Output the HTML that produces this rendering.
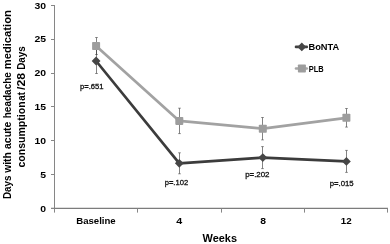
<!DOCTYPE html>
<html><head><meta charset="utf-8"><title>Chart</title>
<style>html,body{margin:0;padding:0;background:#fff}body{width:390px;height:244px;overflow:hidden}</style>
</head><body>
<svg width="390" height="244" viewBox="0 0 390 244" style="display:block">
<rect width="390" height="244" fill="#fff"/>
<g stroke="#868686" stroke-width="1" fill="none">
<path d="M54.5 5 V212.6"/>
<path d="M51 208.4 H388" stroke="#7c7c7c" stroke-width="1.2"/>
<path d="M51 208.5 H54.5"/>
<path d="M51 174.5 H54.5"/>
<path d="M51 140.5 H54.5"/>
<path d="M51 106.5 H54.5"/>
<path d="M51 73.5 H54.5"/>
<path d="M51 39.5 H54.5"/>
<path d="M51 5.5 H54.5"/>
<path d="M137.5 208.5 V212.6"/>
<path d="M221.5 208.5 V212.6"/>
<path d="M304.5 208.5 V212.6"/>
<path d="M387.5 208.5 V212.6"/>
</g>
<polyline points="96.1,61.0 179.3,163.3 262.8,157.6 346.4,161.4" fill="none" stroke="#3c3c3c" stroke-width="2.7" stroke-linejoin="round"/>
<path d="M96.5 48.5 V73.5" stroke="#303030" stroke-width="1" stroke-opacity="0.6" fill="none"/><path d="M95.1 48.5 H97.9 M95.1 73.5 H97.9" stroke="#303030" stroke-width="1" stroke-opacity="0.5" fill="none"/>
<path d="M179.5 152.8 V173.8" stroke="#303030" stroke-width="1" stroke-opacity="0.6" fill="none"/><path d="M178.1 152.8 H180.9 M178.1 173.8 H180.9" stroke="#303030" stroke-width="1" stroke-opacity="0.5" fill="none"/>
<path d="M262.5 146.6 V168.6" stroke="#303030" stroke-width="1" stroke-opacity="0.6" fill="none"/><path d="M261.1 146.6 H263.9 M261.1 168.6 H263.9" stroke="#303030" stroke-width="1" stroke-opacity="0.5" fill="none"/>
<path d="M346.5 150.4 V172.4" stroke="#303030" stroke-width="1" stroke-opacity="0.6" fill="none"/><path d="M345.1 150.4 H347.9 M345.1 172.4 H347.9" stroke="#303030" stroke-width="1" stroke-opacity="0.5" fill="none"/>
<path d="M91.7 61.0 L96.1 56.6 L100.5 61.0 L96.1 65.4Z" fill="#464646"/>
<path d="M174.9 163.3 L179.3 158.9 L183.7 163.3 L179.3 167.7Z" fill="#464646"/>
<path d="M258.4 157.6 L262.8 153.2 L267.2 157.6 L262.8 162.0Z" fill="#464646"/>
<path d="M342.0 161.4 L346.4 157.0 L350.8 161.4 L346.4 165.8Z" fill="#464646"/>
<polyline points="96.1,46.0 179.3,120.9 262.8,128.7 346.4,117.8" fill="none" stroke="#A2A2A2" stroke-width="2.7" stroke-linejoin="round"/>
<path d="M96.5 37.5 V54.5" stroke="#303030" stroke-width="1" stroke-opacity="0.6" fill="none"/><path d="M95.1 37.5 H97.9 M95.1 54.5 H97.9" stroke="#303030" stroke-width="1" stroke-opacity="0.5" fill="none"/>
<path d="M179.5 108.2 V133.6" stroke="#303030" stroke-width="1" stroke-opacity="0.6" fill="none"/><path d="M178.1 108.2 H180.9 M178.1 133.6 H180.9" stroke="#303030" stroke-width="1" stroke-opacity="0.5" fill="none"/>
<path d="M262.5 117.5 V139.9" stroke="#303030" stroke-width="1" stroke-opacity="0.6" fill="none"/><path d="M261.1 117.5 H263.9 M261.1 139.9 H263.9" stroke="#303030" stroke-width="1" stroke-opacity="0.5" fill="none"/>
<path d="M346.5 108.5 V127.1" stroke="#303030" stroke-width="1" stroke-opacity="0.6" fill="none"/><path d="M345.1 108.5 H347.9 M345.1 127.1 H347.9" stroke="#303030" stroke-width="1" stroke-opacity="0.5" fill="none"/>
<rect x="92.1" y="42.0" width="8" height="8" rx="0.8" fill="#9d9d9d"/>
<rect x="175.3" y="116.9" width="8" height="8" rx="0.8" fill="#9d9d9d"/>
<rect x="258.8" y="124.7" width="8" height="8" rx="0.8" fill="#9d9d9d"/>
<rect x="342.4" y="113.8" width="8" height="8" rx="0.8" fill="#9d9d9d"/>
<path d="M296 46.9 H306.8" stroke="#404040" stroke-width="2.6" stroke-linecap="round"/>
<path d="M297.4 46.9 L301.8 42.5 L306.2 46.9 L301.8 51.3Z" fill="#464646"/>
<path d="M296 68.5 H306.8" stroke="#A6A6A6" stroke-width="2.6" stroke-linecap="round"/>
<rect x="297.9" y="64.5" width="8" height="8" rx="0.8" fill="#9d9d9d"/>
<g font-family="Liberation Sans, Arial, sans-serif" fill="#000">
<text x="40.25" y="211.60" font-size="9.8" font-weight="bold" textLength="5.80" lengthAdjust="spacingAndGlyphs">0</text>
<text x="40.25" y="177.77" font-size="9.8" font-weight="bold" textLength="5.80" lengthAdjust="spacingAndGlyphs">5</text>
<text x="34.40" y="143.93" font-size="9.8" font-weight="bold" textLength="11.60" lengthAdjust="spacingAndGlyphs">10</text>
<text x="34.40" y="110.10" font-size="9.8" font-weight="bold" textLength="11.60" lengthAdjust="spacingAndGlyphs">15</text>
<text x="34.40" y="76.27" font-size="9.8" font-weight="bold" textLength="11.60" lengthAdjust="spacingAndGlyphs">20</text>
<text x="34.40" y="42.43" font-size="9.8" font-weight="bold" textLength="11.60" lengthAdjust="spacingAndGlyphs">25</text>
<text x="34.40" y="8.60" font-size="9.8" font-weight="bold" textLength="11.60" lengthAdjust="spacingAndGlyphs">30</text>
<text x="308.48" y="49.85" font-size="9.8" font-weight="bold" textLength="30.70" lengthAdjust="spacingAndGlyphs">BoNTA</text>
<text x="308.79" y="71.85" font-size="9.8" font-weight="bold" textLength="14.96" lengthAdjust="spacingAndGlyphs">PLB</text>
<text x="76.21" y="224.15" font-size="9.8" font-weight="bold" textLength="39.51" lengthAdjust="spacingAndGlyphs">Baseline</text>
<text x="176.37" y="224.10" font-size="9.8" font-weight="bold" textLength="5.98" lengthAdjust="spacingAndGlyphs">4</text>
<text x="260.22" y="224.20" font-size="9.8" font-weight="bold" textLength="5.76" lengthAdjust="spacingAndGlyphs">8</text>
<text x="340.75" y="224.10" font-size="9.8" font-weight="bold" textLength="10.86" lengthAdjust="spacingAndGlyphs">12</text>
<text x="202.54" y="241.80" font-size="10.7" font-weight="bold" textLength="34.43" lengthAdjust="spacingAndGlyphs">Weeks</text>
<text x="79.95" y="89.07" font-size="8.0" fill="#111" stroke="#111" stroke-width="0.3" textLength="23.61" lengthAdjust="spacingAndGlyphs">p=.651</text>
<text x="164.67" y="184.65" font-size="8.0" fill="#111" stroke="#111" stroke-width="0.3" textLength="23.53" lengthAdjust="spacingAndGlyphs">p=.102</text>
<text x="245.13" y="177.35" font-size="8.0" fill="#111" stroke="#111" stroke-width="0.3" textLength="24.39" lengthAdjust="spacingAndGlyphs">p=.202</text>
<text x="329.65" y="185.95" font-size="8.0" fill="#111" stroke="#111" stroke-width="0.3" textLength="23.97" lengthAdjust="spacingAndGlyphs">p=.015</text>
<text transform="translate(10.8 199.02) rotate(-90)" font-size="10.5" font-weight="bold" textLength="23.54" lengthAdjust="spacingAndGlyphs">Days</text>
<text transform="translate(10.8 172.80) rotate(-90)" font-size="10.5" font-weight="bold" textLength="20.67" lengthAdjust="spacingAndGlyphs">with</text>
<text transform="translate(10.8 149.00) rotate(-90)" font-size="10.5" font-weight="bold" textLength="27.33" lengthAdjust="spacingAndGlyphs">acute</text>
<text transform="translate(10.8 118.23) rotate(-90)" font-size="10.5" font-weight="bold" textLength="46.08" lengthAdjust="spacingAndGlyphs">headache</text>
<text transform="translate(10.8 69.35) rotate(-90)" font-size="10.5" font-weight="bold" textLength="59.31" lengthAdjust="spacingAndGlyphs">medication</text>
<text transform="translate(25.0 167.59) rotate(-90)" font-size="10.5" font-weight="bold" textLength="66.26" lengthAdjust="spacingAndGlyphs">consumption</text>
<text transform="translate(25.0 100.66) rotate(-90)" font-size="10.5" font-weight="bold" textLength="8.54" lengthAdjust="spacingAndGlyphs">at</text>
<text transform="translate(25.0 90.00) rotate(-90)" font-size="10.5" font-weight="bold" textLength="16.95" lengthAdjust="spacingAndGlyphs">/28</text>
<text transform="translate(25.0 69.87) rotate(-90)" font-size="10.5" font-weight="bold" textLength="23.60" lengthAdjust="spacingAndGlyphs">Days</text>
</g>
</svg>
</body></html>
